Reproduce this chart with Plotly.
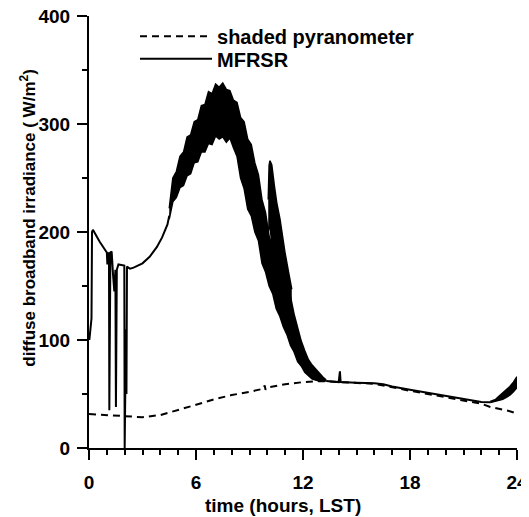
import plotly.graph_objects as go

# ---- data ----
# shaded pyranometer (dashed)
pyr_time = [0, 0.5, 1, 1.5, 2, 2.5, 3, 4, 5, 6, 7, 8, 9, 9.8, 9.85, 9.9, 10, 11, 12, 13, 14, 16, 18, 20, 21, 22, 22.5, 23, 23.5, 24]
pyr_value = [31.5, 31, 30.5, 30, 29.5, 28.5, 28.5, 30.5, 35, 40, 45, 49, 52, 55, 58, 54, 56, 59, 61, 62, 61, 59.5, 53, 47, 44, 41, 38, 36.5, 34.5, 32]

# MFRSR smooth / spiky parts (None = hidden inside the noisy band)
mfrsr_time = [0.02, 0.08, 0.14, 0.17, 0.22, 0.6, 1.0, 1.03, 1.08, 1.12, 1.14, 1.2, 1.27, 1.35, 1.42, 1.48, 1.51, 1.56, 1.65, 1.98, 2.0, 2.04, 2.08, 2.1, 2.13, 2.3,
              2.5, 3.0, 3.4, 3.8, 4.1, 4.4, 4.5, None,
              13.3, 14.0, 14.07, 14.09, 14.11, 15, 16, 16.5, 17, 18, 19, 20, 21, 21.5, 22, 22.5]
mfrsr_value = [100, 110, 120, 200, 202, 191, 181, 170, 181, 180, 35, 181, 182, 160, 145, 165, 38, 165, 170, 169, 0, 60, 110, 50, 168, 166,
               167, 171, 177, 186, 195, 207, 215, None,
               62, 61, 71, 61, 61, 60.5, 60, 59, 57, 54, 51, 48, 45, 43.5, 42.5, 42.3]

# MFRSR noisy daytime band (upper / lower envelope)
band_time = [4.5, 4.7, 4.9, 5.1, 5.3, 5.5, 5.7, 5.9, 6.1, 6.3, 6.5, 6.7, 6.9, 7.1, 7.3, 7.5, 7.7, 7.9, 8.1, 8.3, 8.5,
             8.7, 8.9, 9.1, 9.3, 9.5, 9.7, 9.9, 10.1, 10.3, 10.5, 10.7, 10.9, 11.1, 11.3, 11.5, 11.7, 11.9, 12.1, 12.3,
             12.5, 12.7, 12.9, 13.1, 13.3]
band_upper = [222, 250, 256, 270, 274, 288, 290, 302, 304, 317, 318, 330, 328, 337, 334, 338, 332, 331, 322, 320, 306,
              302, 286, 281, 264, 253, 230, 218, 196, 186, 172, 163, 155, 150, 140, 124, 111, 99, 90, 82,
              77, 73, 69, 66, 63]
band_lower = [212, 228, 232, 241, 243, 252, 254, 264, 265, 274, 274, 282, 281, 289, 286, 288, 283, 287, 278, 270, 250,
              240, 221, 215, 200, 192, 171, 163, 150, 143, 129, 122, 112, 105, 95, 89, 80, 76, 70, 67,
              64, 63, 62, 62, 62]

# secondary noisy lobe near 10-11 h
lobe_time = [10.05, 10.1, 10.15, 10.25, 10.4, 10.53, 10.71, 10.85, 10.99, 11.2, 11.37]
lobe_upper = [230, 262, 266, 262, 242, 227, 212, 195, 181, 162, 147]
lobe_lower = [200, 205, 205, 190, 178, 168, 156, 146, 140, 130, 125]

# late-evening noisy band
late_time = [22.5, 22.8, 23.0, 23.2, 23.4, 23.6, 23.8, 24.0]
late_upper = [43, 45, 48, 51, 54, 57, 61, 66]
late_lower = [42, 43, 44, 45, 47, 49, 52, 56]

x_ticks = [0, 6, 12, 18, 24]
y_ticks = [0, 100, 200, 300, 400]

FONT = "Liberation Sans, Arial, sans-serif"
BLACK = "black"

fig = go.Figure()

fig.add_trace(go.Scatter(x=pyr_time, y=pyr_value, mode="lines", name="shaded pyranometer",
                         line=dict(color=BLACK, width=2, dash="7px,5px"), legend="legend"))
fig.add_trace(go.Scatter(x=mfrsr_time, y=mfrsr_value, mode="lines", name="MFRSR",
                         line=dict(color=BLACK, width=2), connectgaps=False, legend="legend2"))

for t, up, lo in [(band_time, band_upper, band_lower), (lobe_time, lobe_upper, lobe_lower),
                  (late_time, late_upper, late_lower)]:
    fig.add_trace(go.Scatter(x=t, y=up, mode="lines", line=dict(color=BLACK, width=1.5),
                             showlegend=False, hoverinfo="skip"))
    fig.add_trace(go.Scatter(x=t, y=lo, mode="lines", line=dict(color=BLACK, width=1.5),
                             fill="tonexty", fillcolor=BLACK, showlegend=False, hoverinfo="skip"))

axis_common = dict(showline=True, linecolor=BLACK, linewidth=2, ticks="outside", tickcolor=BLACK,
                   tickwidth=2, ticklen=10, showgrid=False, zeroline=False, mirror=False, automargin=False,
                   ticklabeloverflow="allow",
                   tickfont=dict(family=FONT, size=19, color=BLACK, weight="bold"))

fig.update_xaxes(range=[0, 24], tickvals=x_ticks, ticktext=[str(v) for v in x_ticks],
                 minor=dict(dtick=1, ticks="outside", ticklen=5, tickwidth=1.5, tickcolor=BLACK, showgrid=False),
                 ticklabelstandoff=6, **axis_common)
fig.update_yaxes(range=[0, 400], tickvals=y_ticks, ticktext=[str(v) for v in y_ticks],
                 minor=dict(dtick=50, ticks="outside", ticklen=5, tickwidth=1.5, tickcolor=BLACK, showgrid=False),
                 ticklabelstandoff=3, **axis_common)

fig.add_annotation(text="time (hours, LST)", xref="paper", yref="paper", x=0.453, y=-0.134,
                   xanchor="center", yanchor="middle", showarrow=False,
                   font=dict(family=FONT, size=19, color=BLACK, weight="bold"))
fig.add_annotation(text="diffuse broadband irradiance ( W/m<sup>2</sup>)", xref="paper", yref="paper",
                   x=-0.1425, y=0.533, textangle=-90, xanchor="center", yanchor="middle", showarrow=False,
                   font=dict(family=FONT, size=17, color=BLACK, weight="bold"))

legend_style = dict(xanchor="left", yanchor="top", bgcolor="rgba(0,0,0,0)",
                    font=dict(family=FONT, size=20, color=BLACK, weight="bold"),
                    itemwidth=72, tracegroupgap=0, traceorder="normal")

fig.update_layout(
    width=521, height=509,
    margin=dict(l=81, r=12, t=8, b=69, autoexpand=False),
    paper_bgcolor="white", plot_bgcolor="white",
    showlegend=True,
    legend=dict(x=0.1075, y=0.998, **legend_style),
    legend2=dict(x=0.1075, y=0.946, **legend_style),
)

fig.write_html("out.html")
